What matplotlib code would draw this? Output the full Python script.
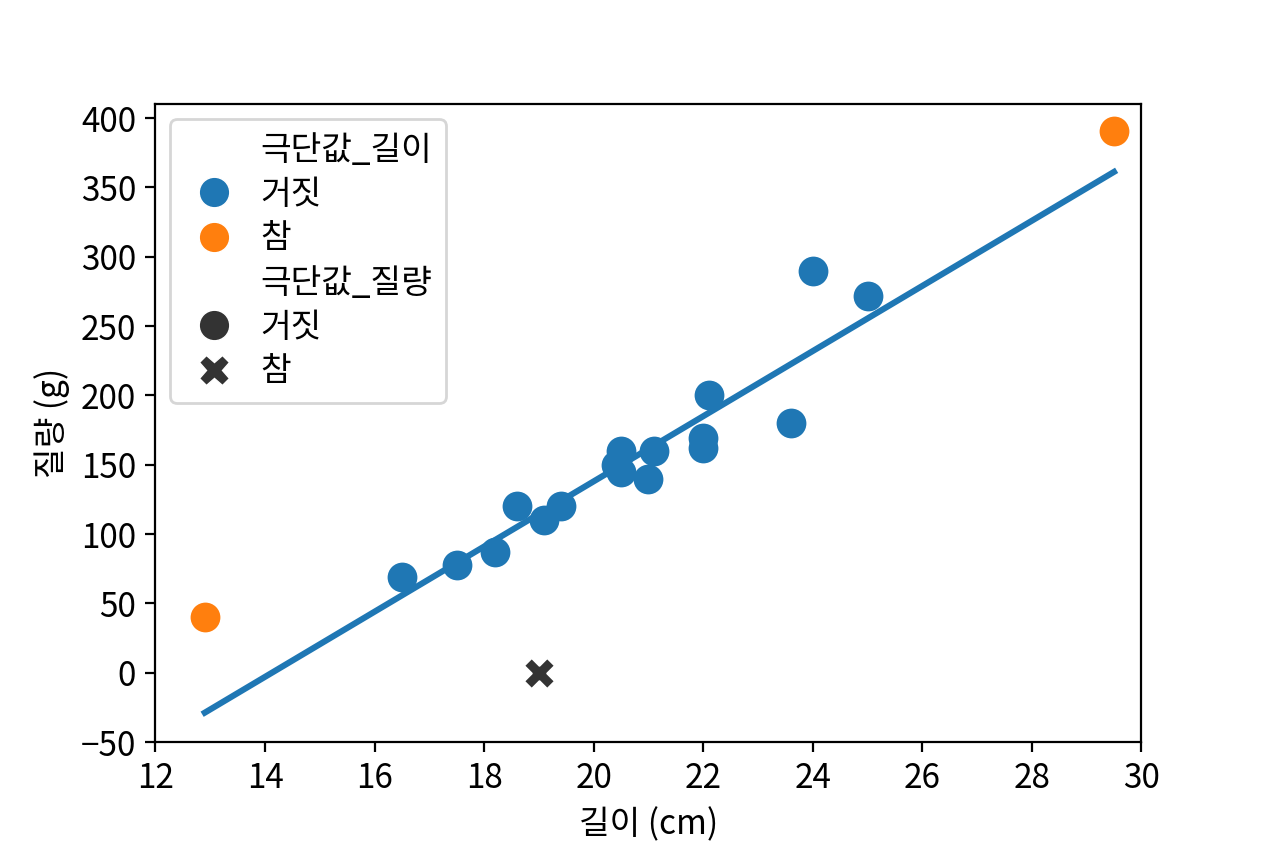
import matplotlib
matplotlib.use('Agg')
import matplotlib.pyplot as plt
from matplotlib.lines import Line2D
import numpy as np

plt.rcParams['font.family'] = ['Noto Sans CJK KR', 'DejaVu Sans']
plt.rcParams['font.size'] = 12
plt.rcParams['axes.unicode_minus'] = True

# 정상 데이터 (극단값_길이=거짓, 극단값_질량=거짓)
normal_len = [16.5, 17.5, 18.2, 18.6, 19.1, 19.4, 20.4, 20.5, 20.5, 21.0,
              21.1, 22.0, 22.0, 22.1, 23.6, 24.0, 25.0]
normal_wt = [69, 78, 87, 120, 110, 120, 150, 160, 145, 140,
             160, 169, 162, 200, 180, 290, 272]

# 길이 극단값 (참)
len_out_len = [12.9, 29.5]
len_out_wt = [40, 391]

# 질량 극단값 (참)
wt_out_len = [19.0]
wt_out_wt = [0]

# 회귀선 계수
fit_slope = 23.5
fit_intercept = -332.0

blue = '#1f77b4'
orange = '#ff7f0e'
dark = '#333333'

fig, ax = plt.subplots(figsize=(6.32, 4.24), dpi=200)
fig.subplots_adjust(left=0.123, right=0.903, top=0.877, bottom=0.125)

ax.scatter(normal_len, normal_wt, s=115, color=blue, linewidth=0, zorder=3)
ax.scatter(len_out_len, len_out_wt, s=115, color=orange, linewidth=0, zorder=3)
ax.scatter(wt_out_len, wt_out_wt, s=125, marker='X', color=dark,
           edgecolor='white', linewidth=0.75, zorder=3)

all_len = normal_len + len_out_len + wt_out_len
xs = np.array([min(all_len), max(all_len)])
ax.plot(xs, fit_slope * xs + fit_intercept, color=blue, lw=2.2, zorder=2)

ax.set_xlim(12, 30)
ax.set_ylim(-50, 410)
ax.set_xticks(np.arange(12, 31, 2))
ax.set_yticks(np.arange(-50, 401, 50))
ax.set_xlabel('길이 (cm)')
ax.set_ylabel('질량 (g)')

blank = Line2D([], [], linestyle='none', marker='')
def dot(c, m='o'):
    return Line2D([], [], linestyle='none', marker=m, markersize=11,
                  markerfacecolor=c, markeredgecolor='white', markeredgewidth=0.5)

handles = [blank, dot(blue), dot(orange), blank, dot(dark), dot(dark, 'X')]
labels = ['극단값_길이', '거짓', '참', '극단값_질량', '거짓', '참']
ax.legend(handles, labels, loc='upper left', labelspacing=0.28,
          borderaxespad=0.45, handletextpad=0.5, handlelength=1.8)

fig.savefig('out.png', dpi=200)
